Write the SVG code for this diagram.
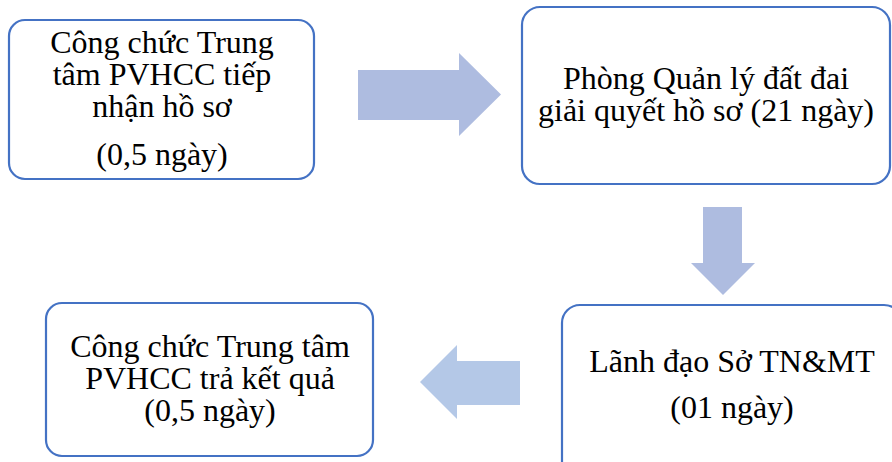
<svg xmlns="http://www.w3.org/2000/svg" width="892" height="462" viewBox="0 0 892 462">
<style>
.box{fill:#fff;stroke:#4472C4;stroke-width:2.2}
.t{font-family:"Liberation Serif","Times New Roman",serif;font-size:32px;fill:#000;text-anchor:middle}
.a1{fill:#AEBCE0}
.a2{fill:#B4C8E7}
</style>
<rect width="892" height="462" fill="#fff"/>
<g id="connectors">
<polygon class="a1" points="358,70 459,70 459,53 501,94.5 459,136 459,120 358,120"/>
<polygon class="a1" points="703,207 742,207 742,263 755,263 723,295 691,263 703,263"/>
<polygon class="a2" points="520,361 457,361 457,345 420,382 457,419 457,405 520,405"/>
</g>
<g id="n1">
<rect class="box" x="9" y="20" width="305" height="159" rx="16"/>
<text class="t" x="162" y="53">Công chức Trung</text>
<text class="t" x="162" y="85">tâm PVHCC tiếp</text>
<text class="t" x="162" y="117">nhận hồ sơ</text>
<text class="t" x="162" y="165">(0,5 ngày)</text>
</g>
<g id="n2">
<rect class="box" x="522" y="7" width="368" height="177" rx="18"/>
<text class="t" x="706" y="89">Phòng Quản lý đất đai</text>
<text class="t" x="706" y="121">giải quyết hồ sơ (21 ngày)</text>
</g>
<g id="n3">
<rect class="box" x="562" y="305" width="340" height="177" rx="18"/>
<text class="t" x="732" y="372">Lãnh đạo Sở TN&amp;MT</text>
<text class="t" x="732" y="418">(01 ngày)</text>
</g>
<g id="n4">
<rect class="box" x="46" y="303" width="327" height="153" rx="16"/>
<text class="t" x="210" y="357">Công chức Trung tâm</text>
<text class="t" x="210" y="389">PVHCC trả kết quả</text>
<text class="t" x="210" y="421">(0,5 ngày)</text>
</g>
</svg>
